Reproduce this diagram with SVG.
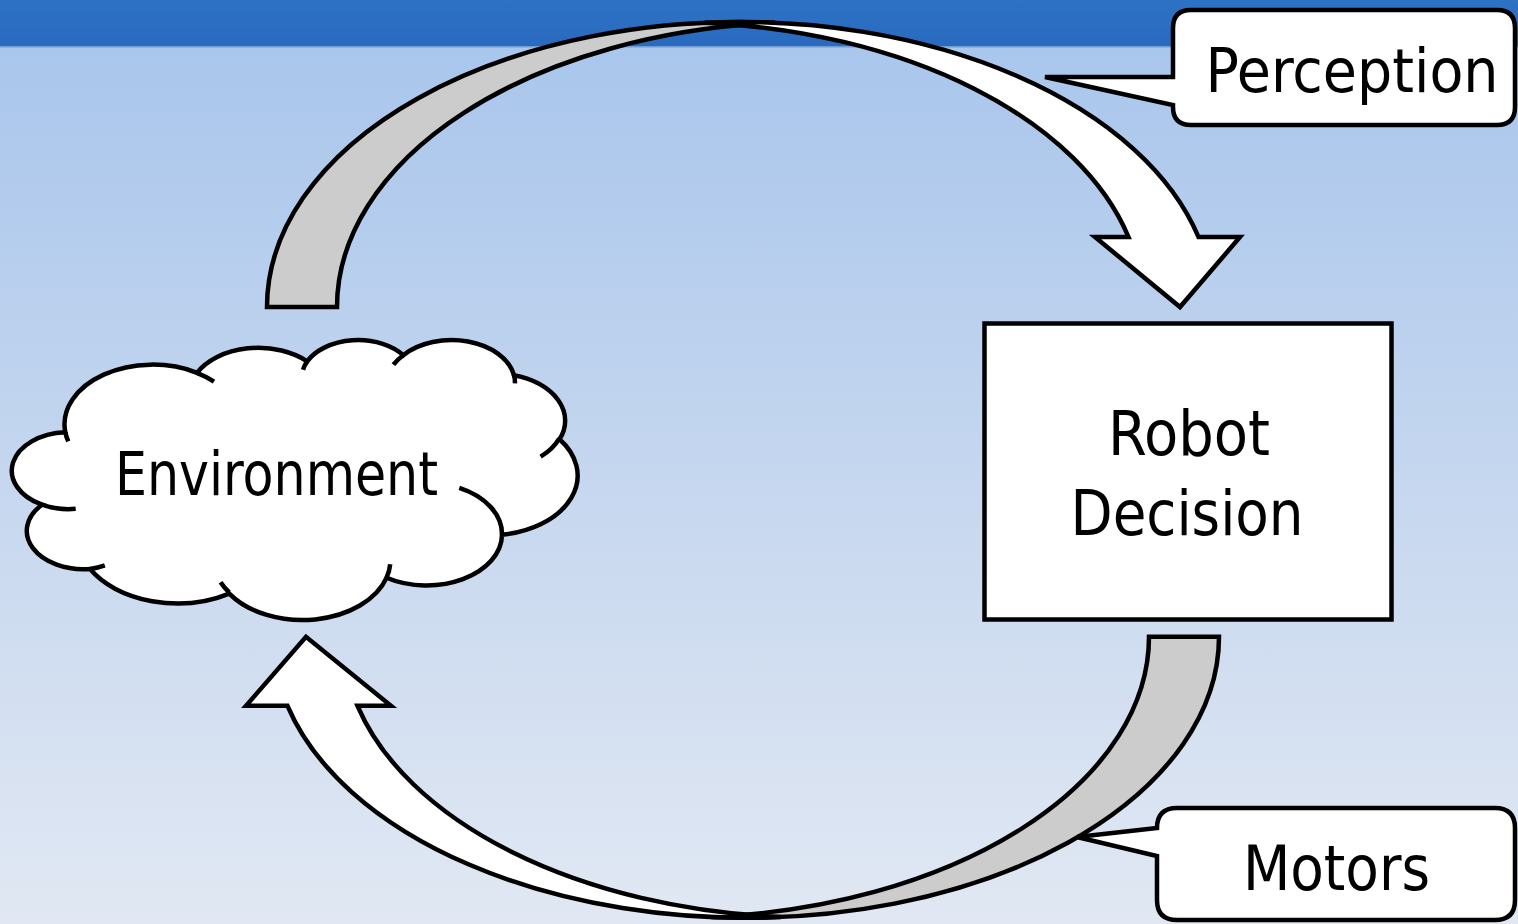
<svg xmlns="http://www.w3.org/2000/svg" width="1518" height="924" viewBox="0 0 1518 924">
  <defs>
    <linearGradient id="bg" x1="0" y1="47" x2="0" y2="924" gradientUnits="userSpaceOnUse">
      <stop offset="0" stop-color="#a9c6ec"/>
      <stop offset="0.5" stop-color="#c6d7ef"/>
      <stop offset="1" stop-color="#e1e8f3"/>
    </linearGradient>
    <linearGradient id="bar" x1="0" y1="0" x2="0" y2="46" gradientUnits="userSpaceOnUse">
      <stop offset="0" stop-color="#2c72c5"/>
      <stop offset="1" stop-color="#2a6abf"/>
    </linearGradient>
    <style>
      .ln { stroke: #000; stroke-width: 4.5; stroke-linejoin: miter; stroke-miterlimit: 8; }
      .back { fill: #cccccc; }
      .front { fill: #ffffff; }
      .box { fill: #ffffff; stroke: #000; stroke-width: 4.5; }
      .tick { fill: none; stroke: #000; stroke-width: 4.5; }
      .lbl { font-family: "DejaVu Sans", "Liberation Sans", sans-serif; font-stretch: condensed; fill: #000; text-anchor: middle; }
    </style>
  </defs>

  <rect x="0" y="0" width="1518" height="924" fill="url(#bg)"/>
  <rect x="0" y="0" width="1518" height="46" fill="url(#bar)"/>
  <rect x="0" y="46" width="1518" height="1.5" fill="#6f9bd6"/>

  <g id="connectors">
    <g id="arrow-perception">
      <path class="back ln" d="M267,307 A473,285 0 0 1 775,22.8 A473,285 0 0 0 337,307 Z"/>
      <path class="front ln" d="M705,22.8 A473,285 0 0 1 1198.5,237 L1240,237 L1180,307 L1095,237 L1128.5,237 A473,285 0 0 0 705,22.8 Z"/>
    </g>
    <g id="arrow-motors" transform="matrix(-1,0,0,-0.986,1486,939.5)">
      <path class="back ln" d="M267,307 A473,285 0 0 1 775,22.8 A473,285 0 0 0 337,307 Z"/>
      <path class="front ln" d="M705,22.8 A473,285 0 0 1 1198.5,237 L1240,237 L1180,307 L1095,237 L1128.5,237 A473,285 0 0 0 705,22.8 Z"/>
    </g>
  </g>

  <g id="environment">
    <path class="box" d="M65.3,432.2 A88,59.6 0 0 1 197,372.8 A69.5,47.1 0 0 1 307.2,361.4 A56.9,38.5 0 0 1 403.3,355.2 A63.3,42.7 0 0 1 513.9,375.2 A69.5,47.1 0 0 1 559.5,439.3 A88.3,59.8 0 0 1 502,534.8 A75.4,51 0 0 1 386.6,577.7 A88,59.7 0 0 1 229.3,593.6 A100.6,68.3 0 0 1 90.1,569 A56.8,38.4 0 0 1 42,504.7 A56.6,38.5 0 0 1 65.3,432.2 Z"/>
    <path class="tick" d="M75.7,508.8 A56.6,38.5 0 0 1 42,504.7 M104.8,565.3 A56.8,38.4 0 0 1 90.1,569 M229.2,592.5 A88,59.7 0 0 1 220.6,582.3 M390.2,564.3 A88,59.7 0 0 1 386.6,577.7 M459.3,487.9 A75.4,51 0 0 1 502,534.8 M559.2,438.6 A69.5,47.1 0 0 1 540.6,456.6 M513.9,374.3 A63.3,42.7 0 0 1 514.9,383.4 M393.4,364.7 A63.3,42.7 0 0 1 403.3,355.2 M303,369.7 A56.9,38.5 0 0 1 307.2,361.4 M196.9,372.8 A88,59.6 0 0 1 214,381.6 M68.3,441.4 A88,59.6 0 0 1 65.3,432.2"/>
    <text class="lbl" x="276.5" y="495" font-size="60" textLength="323" lengthAdjust="spacingAndGlyphs">Environment</text>
  </g>

  <g id="robot-decision">
    <rect class="box" x="984.5" y="323.5" width="407" height="296"/>
    <text class="lbl" x="1189" y="455" font-size="62" textLength="162" lengthAdjust="spacingAndGlyphs">Robot</text>
    <text class="lbl" x="1187" y="535" font-size="62" textLength="233" lengthAdjust="spacingAndGlyphs">Decision</text>
  </g>

  <g id="perception">
    <path class="box" d="M1191,10 H1497 Q1515,10 1515,28 V107 Q1515,125 1497,125 H1191 Q1173,125 1173,107 V105 L1045,77 L1173,77 V28 Q1173,10 1191,10 Z"/>
    <text class="lbl" x="1352" y="92" font-size="61" textLength="293" lengthAdjust="spacingAndGlyphs">Perception</text>
  </g>

  <g id="motors">
    <path class="box" d="M1177,808 H1495 Q1515,808 1515,828 V900 Q1515,920 1495,920 H1177 Q1157,920 1157,900 V856 L1077,837 L1157,828 Q1157,808 1177,808 Z"/>
    <text class="lbl" x="1336.5" y="890" font-size="63" textLength="187" lengthAdjust="spacingAndGlyphs">Motors</text>
  </g>
</svg>
